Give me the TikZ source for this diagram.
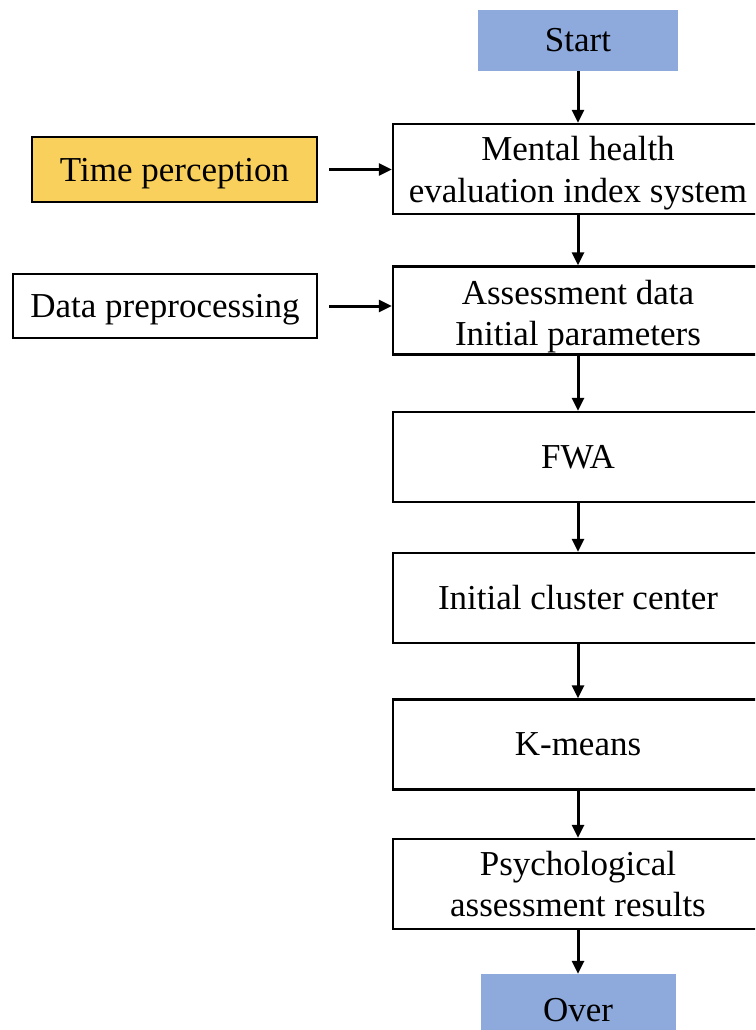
\documentclass[tikz,border=0pt]{standalone}
\usepackage{fontspec}
\setmainfont{Liberation Serif}
\usetikzlibrary{arrows.meta}
\definecolor{termblue}{RGB}{142,169,219}
\definecolor{timegold}{RGB}{250,208,92}

\begin{document}
\begin{tikzpicture}[x=1pt,y=-1pt,
	txt/.style={font=\fontsize{35}{41.5}\selectfont, align=center, inner sep=0pt},
	box/.style={txt, draw, line width=2.4pt, minimum width=370pt, minimum height=90pt},
	term/.style={txt, fill=termblue, minimum width=200pt, minimum height=61pt},
	side/.style={txt, draw, line width=2.4pt, minimum height=65pt, text depth=0pt},
	pile/.style={line width=3pt, -{Triangle[length=13pt,width=12pt]}}]

	% Frame
	\useasboundingbox (0,0) rectangle (755,1030);
	\clip (0,0) rectangle (755,1030);
	\fill[white] (0,0) rectangle (755,1030);

	% Main column
	\node[term] (start) at (578,40.5) {Start};
	\node[box, label={[txt,yshift=-4pt]center:{Mental health\\evaluation index system}}] (index) at (578,169) {};
	\node[box, minimum height=88pt, label={[txt,yshift=-6pt]center:{Assessment data\\Initial parameters}}] (data) at (578,310.5) {};
	\node[box] (fwa) at (578,457) {FWA};
	\node[box] (center) at (578,598) {Initial cluster center};
	\node[box] (kmeans) at (578,744.5) {K-means};
	\node[box] (result) at (578,884) {Psychological\\assessment results};
	\node[term, minimum width=195pt, minimum height=72pt] (over) at (578,1010) {Over};

	% Side inputs
	\node[side, fill=timegold, minimum width=285pt] (time) at (174.5,169.5) {Time perception};
	\node[side, minimum width=304pt, minimum height=64pt] (prep) at (165,306) {Data preprocessing};

	% Arrows
	\draw [pile] (start) -- (index);
	\draw [pile] (index) -- (data);
	\draw [pile] (data) -- (fwa);
	\draw [pile] (fwa) -- (center);
	\draw [pile] (center) -- (kmeans);
	\draw [pile] (kmeans) -- (result);
	\draw [pile] (result) -- (over);
	\draw [pile, shorten <=11pt] (time.east) -- (time.east -| index.west);
	\draw [pile, shorten <=11pt] (prep.east) -- (prep.east -| data.west);

\end{tikzpicture}
\end{document}
